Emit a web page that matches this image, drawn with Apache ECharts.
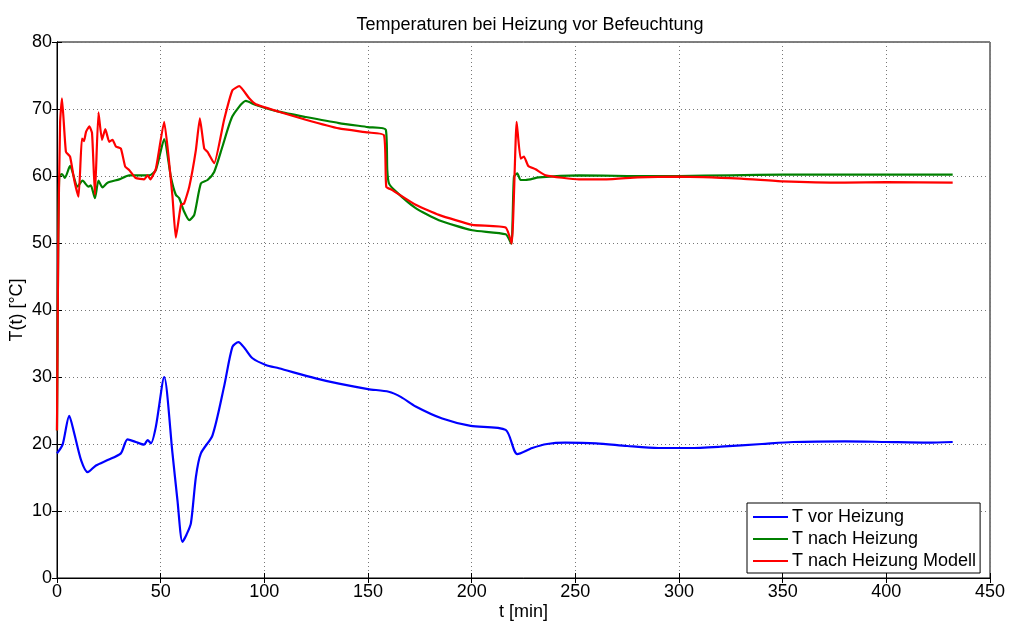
<!DOCTYPE html>
<html>
<head>
<meta charset="utf-8">
<script src="https://cdn.jsdelivr.net/npm/echarts@6/dist/echarts.min.js"></script>
<style>
html,body{margin:0;padding:0;background:#fff;}
#c{width:1010px;height:624px;}
</style>
</head>
<body>
<div id="c"></div>
<script>
// ---- Data ----
const chartTitle = 'Temperaturen bei Heizung vor Befeuchtung';
const seriesNames = ['T vor Heizung', 'T nach Heizung', 'T nach Heizung Modell'];
const xTicks = [0, 50, 100, 150, 200, 250, 300, 350, 400, 450];
const yTicks = [0, 10, 20, 30, 40, 50, 60, 70, 80];

// T vor Heizung
const tVor = [0, 0.3, 2.7, 5.9, 8.3, 11.6, 14.8, 18.8, 24.4, 30.8, 34, 38, 42, 43.7, 45.3, 47.7, 51.7, 55.7, 58.1, 60.5, 62.5, 64.6, 67, 69.4, 75, 80.6, 84.6, 87.5, 90.5, 94.3, 100.7, 107, 124.8, 136, 150, 160, 166, 173, 185.8, 199.5, 216.4, 222, 229.2, 236.4, 245, 260, 275, 290, 305, 320, 340, 355, 380, 400, 420, 432];
const TVor = [18.6, 18.6, 19.9, 24.2, 21.6, 17.6, 15.8, 16.8, 17.6, 18.6, 20.7, 20.3, 19.9, 20.6, 20.1, 22.6, 30.0, 18.6, 11.6, 5.4, 6.5, 8.2, 15.1, 18.6, 21.3, 28.6, 34.5, 35.2, 34.3, 32.8, 31.8, 31.3, 29.8, 29.0, 28.2, 27.8, 27.0, 25.6, 23.8, 22.7, 22.1, 18.5, 19.4, 20.0, 20.2, 20.1, 19.7, 19.4, 19.4, 19.6, 20.0, 20.3, 20.4, 20.3, 20.2, 20.3];

// T nach Heizung
const tNach = [0, 0.6, 1.1, 2.4, 3.8, 6.3, 9.9, 12.3, 15.2, 16.3, 18.3, 20, 22, 24.4, 30, 34.8, 44.5, 47.7, 51.7, 54.9, 57.3, 58.9, 61.3, 63.8, 66.2, 69.4, 72.6, 75.8, 79.8, 84.6, 91.1, 95.9, 107, 120, 136, 150, 158.6, 159.3, 160.1, 163.4, 173, 184.2, 200.3, 216.4, 219.1, 220.4, 222, 223.6, 226, 232.4, 251.7, 275, 300, 325, 350, 380, 410, 432];
const TNach = [22, 50, 59.9, 60.3, 59.7, 61.5, 58.4, 59.3, 58.4, 58.6, 56.7, 59.3, 58.3, 59.0, 59.5, 60.1, 60.1, 60.9, 65.5, 59.9, 57.2, 56.7, 54.7, 53.4, 54.2, 58.9, 59.4, 60.6, 64.4, 68.9, 71.2, 70.6, 69.6, 68.8, 67.9, 67.3, 66.9, 60.9, 58.9, 57.7, 55.2, 53.4, 51.9, 51.3, 49.9, 59.9, 60.4, 59.4, 59.4, 59.8, 60.1, 60.0, 60.0, 60.1, 60.2, 60.2, 60.2, 60.2];

// T nach Heizung Modell
const tMod = [0, 0.6, 1.5, 2.4, 4.3, 6.3, 8.3, 10.4, 12, 13, 14, 15.6, 16.9, 18.3, 20, 21.7, 23.3, 25.2, 26.8, 28.4, 30.8, 32.9, 34.8, 38, 42, 43.7, 45, 47.7, 51.7, 53.8, 55.7, 57.3, 59.8, 61.3, 63.8, 67, 68.9, 71, 72.6, 75.8, 80.6, 84.6, 87.9, 92.7, 95.9, 107, 120, 136, 150, 157.7, 158.8, 161.7, 173, 184.2, 200.3, 216.4, 219.3, 221.7, 223.6, 225.2, 227.3, 230.8, 235.7, 251.7, 265, 280, 300, 330, 350, 380, 400, 432];
const TMod = [22, 50, 68, 71.6, 63.6, 62.9, 59.4, 56.9, 65.6, 65.2, 66.6, 67.4, 66.4, 57.2, 69.5, 65.4, 67.0, 65.1, 65.4, 64.4, 64.1, 61.4, 60.9, 59.7, 59.5, 60.1, 59.5, 61.1, 68.1, 62.9, 56.9, 50.8, 55.7, 55.9, 58.4, 63.9, 68.6, 64.1, 63.6, 61.9, 68.4, 72.8, 73.4, 71.6, 70.7, 69.6, 68.4, 67.1, 66.5, 66.1, 58.4, 57.9, 55.7, 54.2, 52.7, 52.3, 49.9, 68.1, 62.6, 62.9, 61.5, 61.0, 60.1, 59.5, 59.5, 59.8, 59.9, 59.6, 59.2, 59.0, 59.1, 59.0];

function zip(a, b) { return a.map((v, i) => [v, b[i]]); }

const font = 'Liberation Sans, Arial, Helvetica, sans-serif';
const chart = echarts.init(document.getElementById('c'), null, { renderer: 'canvas' });

const axisCommon = {
  axisLine: { show: true, lineStyle: { color: '#000', width: 1 } },
  axisTick: { show: true, inside: true, length: 5, lineStyle: { color: '#000' } },
};
const gridLine = { show: true, lineStyle: { color: '#777', type: [1, 3], width: 1 } };

chart.setOption({
  animation: false,
  backgroundColor: '#fff',
  title: {
    text: chartTitle,
    left: 525, top: 11, textAlign: 'center',
    textStyle: { fontFamily: font, fontSize: 18, fontWeight: 'normal', color: '#000' }
  },
  grid: { left: 57, right: 20, top: 42, bottom: 46, show: true, borderColor: '#000', borderWidth: 1,
          containLabel: false, outerBoundsMode: 'none' },
  legend: {
    orient: 'vertical',
    left: 747, top: 503,
    padding: [4, 4, 2, 6],
    itemGap: 2,
    itemWidth: 35, itemHeight: 2,
    icon: 'rect',
    backgroundColor: '#fff',
    borderColor: '#000', borderWidth: 1,
    textStyle: { fontFamily: font, fontSize: 18, lineHeight: 20, color: '#000', padding: [0, 0, 0, -1] },
    data: seriesNames,
  },
  xAxis: [{
    type: 'value', min: xTicks[0], max: xTicks[xTicks.length - 1], interval: 50,
    position: 'bottom',
    name: 't [min]', nameLocation: 'middle', nameGap: 25, nameMoveOverlap: false,
    nameTextStyle: { fontFamily: font, fontSize: 18, color: '#000' },
    axisLabel: { fontFamily: font, fontSize: 18, color: '#000', margin: 5 },
    splitLine: gridLine,
    ...axisCommon
  }, {
    type: 'value', min: xTicks[0], max: xTicks[xTicks.length - 1], interval: 50,
    position: 'top', axisLabel: { show: false }, splitLine: { show: false },
    ...axisCommon
  }],
  yAxis: [{
    type: 'value', min: yTicks[0], max: yTicks[yTicks.length - 1], interval: 10,
    position: 'left',
    name: 'T(t) [°C]', nameLocation: 'middle', nameGap: 31, nameMoveOverlap: false,
    nameTextStyle: { fontFamily: font, fontSize: 18, color: '#000' },
    axisLabel: { fontFamily: font, fontSize: 18, color: '#000', margin: 5 },
    splitLine: gridLine,
    ...axisCommon
  }, {
    type: 'value', min: yTicks[0], max: yTicks[yTicks.length - 1], interval: 10,
    position: 'right', axisLabel: { show: false }, splitLine: { show: false },
    ...axisCommon
  }],
  series: [
    { name: seriesNames[0], type: 'line', data: zip(tVor, TVor), symbol: 'none', smooth: 0.25,
      lineStyle: { color: '#0000ff', width: 2.2 }, itemStyle: { color: '#0000ff' }, z: 3 },
    { name: seriesNames[1], type: 'line', data: zip(tNach, TNach), symbol: 'none', smooth: 0.2,
      lineStyle: { color: '#008000', width: 2.2 }, itemStyle: { color: '#008000' }, z: 4 },
    { name: seriesNames[2], type: 'line', data: zip(tMod, TMod), symbol: 'none', smooth: 0.15,
      lineStyle: { color: '#ff0000', width: 2.2 }, itemStyle: { color: '#ff0000' }, z: 5 },
  ]
});
</script>
</body>
</html>
